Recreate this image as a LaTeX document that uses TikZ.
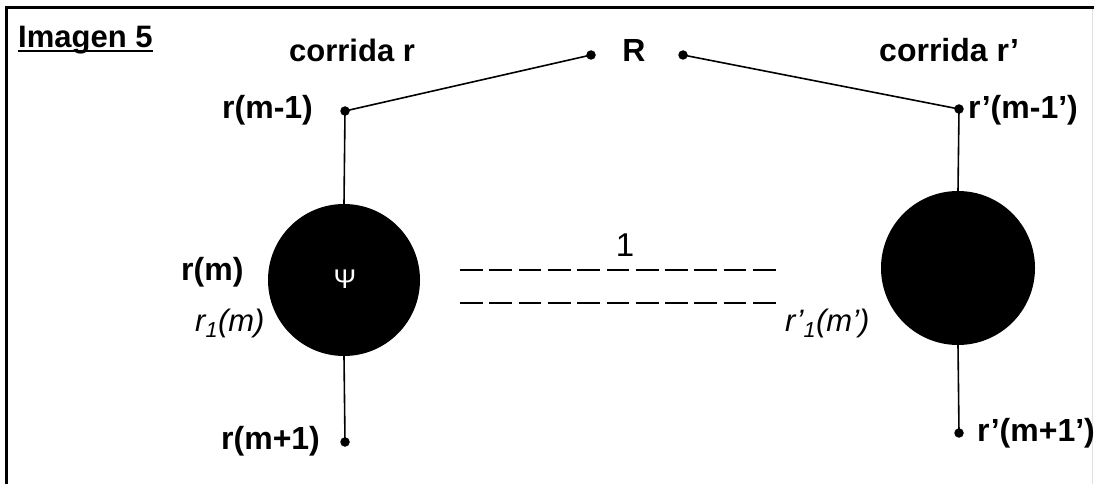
\documentclass[tikz,border=0pt]{standalone}
\usepackage{fontspec}
\setmainfont{Liberation Sans}
\begin{document}
\begin{tikzpicture}[x=1pt,y=-1pt,
  dot/.style={circle,fill=black,inner sep=0pt,minimum size=9.5pt},
  lbl/.style={font=\fontsize{32}{36}\selectfont\bfseries,inner sep=0pt},
  ilbl/.style={font=\fontsize{31}{34}\selectfont\itshape,inner sep=0pt},
  conn/.style={line width=1.6pt},
  ball/.style={circle,fill=black,inner sep=0pt,minimum size=152pt},
  dsh/.style={line width=2pt,dash pattern=on 22.7pt off 6.6pt}]
\useasboundingbox (0,0) rectangle (1094,484);
% frame
\draw[line width=3pt] (6,490) -- (6,8) -- (1100,8);
\draw[line width=1pt,black!12] (1092,9.5) -- (1092,490);
% title
\node[lbl,font=\fontsize{31}{34}\selectfont\bfseries,anchor=base west] (title) at (18,48) {Imagen 5};
\draw[line width=2pt] ([yshift=-3.5pt]title.base west) -- ([yshift=-3.5pt]title.base east);
\node[lbl,font=\fontsize{31}{34}\selectfont\bfseries,anchor=base west] (cr) at (289,62) {corrida r};
\node[lbl,anchor=base west] (crp) at (879,62) {corrida r’};
\node[lbl,anchor=base] (R) at (634,62) {R};
% dots
\node[dot] (dRl) at (591,55) {};
\node[dot] (dRr) at (683,55) {};
\node[dot] (dl1) at (345,111) {};
\node[dot] (dr1) at (959,109) {};
\node[dot] (dl3) at (345,442) {};
\node[dot] (dr3) at (959,433) {};
% balls
\node[ball] (bl) at (344,280) {};
\node[ball,minimum size=154pt] (br) at (958,268) {};
\node[font=\fontsize{27}{30}\selectfont,text=white,inner sep=0pt] (psi) at (345,279) {Ψ};
% labels
\node[lbl,anchor=west] (lm1) at (222,110.5) {r(m-1)};
\node[lbl,anchor=west] (rm1) at (968,110) {r’(m-1’)};
\node[lbl,anchor=west] (lm) at (181,272) {r(m)};
\node[lbl,anchor=west] (lm3) at (221,441) {r(m+1)};
\node[lbl,anchor=west] (rm3) at (977,433) {r’(m+1’)};
\node[ilbl,anchor=west] (lr1) at (195,323) {r\textsubscript{1}(m)};
\node[ilbl,anchor=west] (rr1) at (785,323) {r’\textsubscript{1}(m’)};
\node[font=\fontsize{33}{36}\selectfont,inner sep=0pt,anchor=base] (one) at (625,256) {1};
% connectors
\draw[conn] (dl1.center) -- (dRl.center);
\draw[conn] (dRr.center) -- (dr1.center);
\draw[conn] (dl1.center) -- (bl.north);
\draw[conn] (bl.south) -- (dl3.center);
\draw[conn] (dr1.center) -- (br.north);
\draw[conn] (br.south) -- (dr3.center);
% dashed
\coordinate (d1a) at (460,270); \coordinate (d1b) at (777,270);
\coordinate (d2a) at (460,303); \coordinate (d2b) at (777,303);
\draw[dsh] (d1a) -- (d1b);
\draw[dsh] (d2a) -- (d2b);
\end{tikzpicture}
\end{document}
